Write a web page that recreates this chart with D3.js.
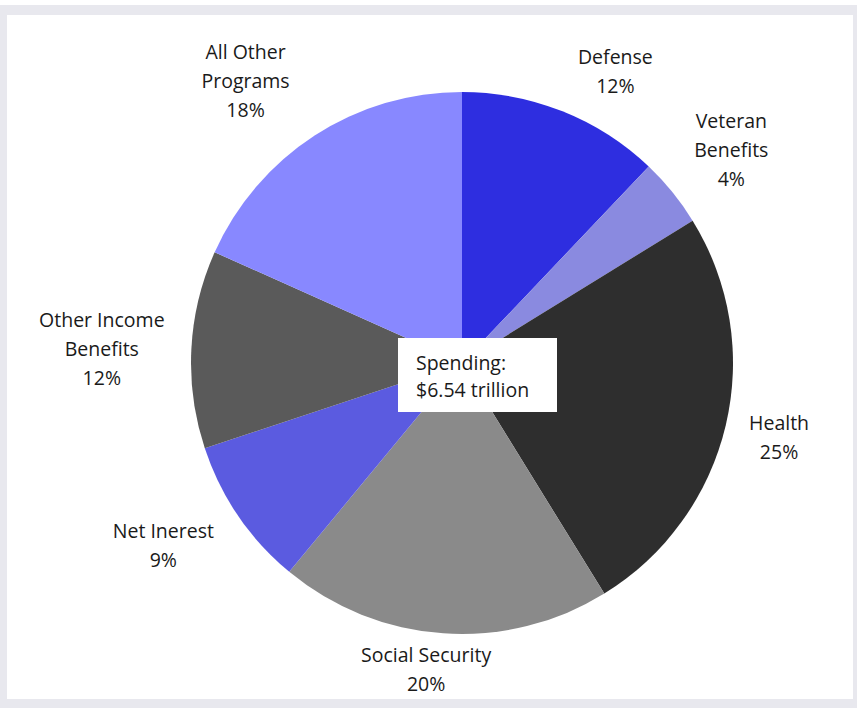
<!DOCTYPE html>
<html>
<head>
<meta charset="utf-8">
<script src="https://cdn.jsdelivr.net/npm/d3@7"></script>
<style>
  body { margin: 0; background: #fff; }
  text { font-family: "Open Sans", Lato, sans-serif; fill: #1a1a1a; }
</style>
</head>
<body>
<div class="chart"></div>
<script>
// spending share by category (percent of total)
const categories = ["Defense", "Veteran\nBenefits", "Health", "Social Security", "Net Inerest", "Other Income\nBenefits", "All Other\nPrograms"];
const shares = [12.1, 4.1, 25.0, 19.8, 8.9, 11.8, 18.3];
const percentLabels = ["12%", "4%", "25%", "20%", "9%", "12%", "18%"];
const sliceColors = ["#2e2ee0", "#8a8ae0", "#2e2e2e", "#8a8a8a", "#5b5be0", "#5a5a5a", "#8888ff"];
const centerLines = ["Spending:", "$6.54 trillion"];

const W = 857, H = 708;
const cx = 462, cy = 363, radius = 271;
const fontSize = 19.5, lineH = 29;
// labels are spread a little off their slice middles to keep clear of each other
const labelShift = [5.9, 0.7, -0.2, 2.7, 3.0, -0.5, -4.5];   // degrees
const labelPush = [5, 5, 7, -10, 9, 13, 12.5];                // px, radial

const svg = d3.select(".chart").append("svg")
    .attr("width", W)
    .attr("height", H);

// frame
svg.append("rect").attr("x", 0).attr("y", 5).attr("width", W).attr("height", H - 5).attr("fill", "#e8e8ee");
svg.append("rect").attr("x", 7).attr("y", 15).attr("width", 846).attr("height", 684).attr("fill", "#fff");

const data = categories.map((c, i) => ({name: c, value: shares[i], pct: percentLabels[i], color: sliceColors[i]}));

const pie = d3.pie().sort(null).value(d => d.value);
const arc = d3.arc().innerRadius(0).outerRadius(radius);
const arcs = pie(data);

const g = svg.append("g").attr("transform", "translate(" + cx + "," + cy + ")");

g.selectAll("path.slice")
    .data(arcs)
    .enter()
    .append("path")
        .attr("class", "slice")
        .attr("d", arc)
        .attr("fill", d => d.data.color);

// labels outside the pie
const labels = g.selectAll("g.label")
    .data(arcs)
    .enter()
    .append("g")
        .attr("class", "label");

labels.each(function(d, k) {
    const lines = d.data.name.split("\n").concat([d.data.pct]);
    const t = d3.select(this).append("text")
        .attr("text-anchor", "middle")
        .style("font-size", fontSize + "px");
    lines.forEach((l, i) => {
        t.append("tspan").attr("x", 0).attr("y", i * lineH).text(l);
    });
    const bb = this.getBBox();
    const mid = (d.startAngle + d.endAngle) / 2 + labelShift[k] * Math.PI / 180;
    const s = Math.sin(mid), c = -Math.cos(mid);
    const ext = Math.abs(s) * bb.width / 2 + Math.abs(c) * bb.height / 2;
    const dist = radius + 12 + ext + labelPush[k];
    const lx = s * dist - (bb.x + bb.width / 2);
    const ly = c * dist - (bb.y + bb.height / 2);
    d3.select(this).attr("transform", "translate(" + lx + "," + ly + ")");
});

// center annotation
const box = g.append("g").attr("transform", "translate(-64,-25)");
box.append("rect")
    .attr("width", 159)
    .attr("height", 74)
    .attr("fill", "#fff");
box.selectAll("text.center")
    .data(centerLines)
    .enter()
    .append("text")
        .attr("class", "center")
        .attr("x", 18)
        .attr("y", (d, i) => 32 + i * 27)
        .style("font-size", fontSize + "px")
        .text(d => d);
</script>
</body>
</html>
